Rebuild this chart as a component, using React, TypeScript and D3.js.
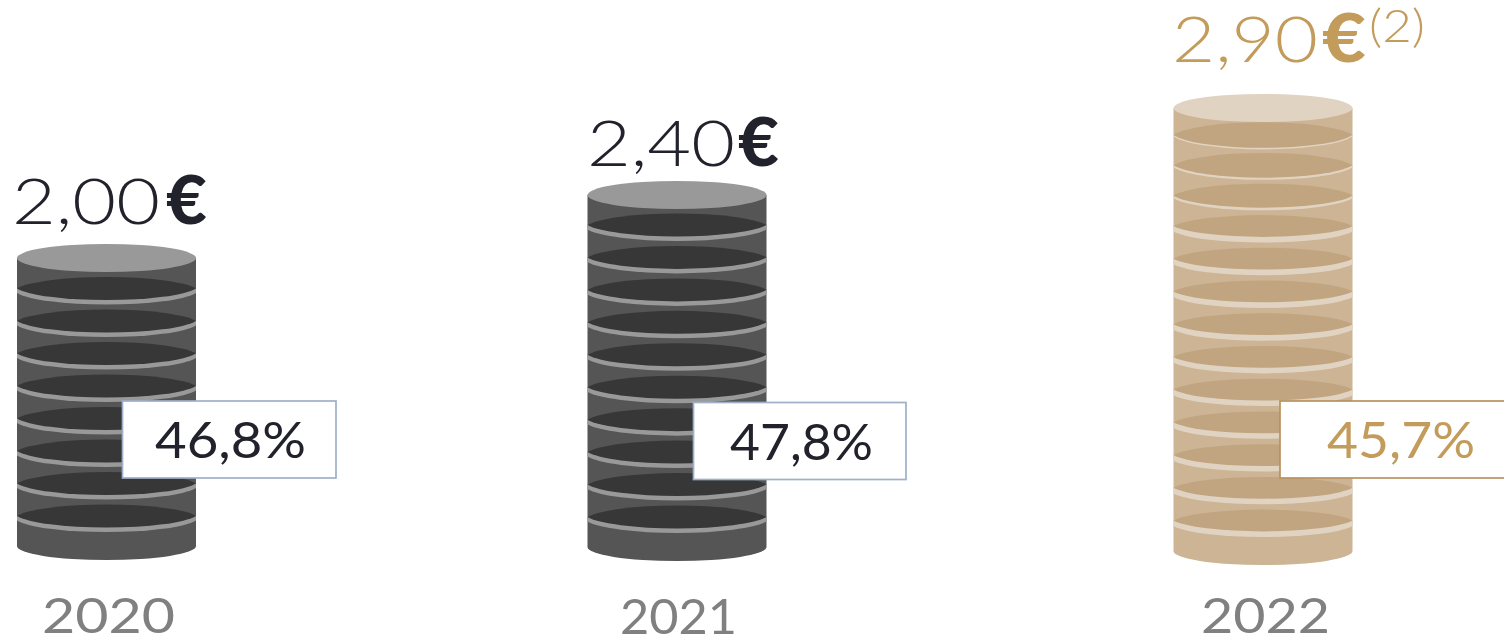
import React, { useEffect, useRef } from "react";
import { select, scaleLinear } from "d3";

const years = ["2020", "2021", "2022"];
const dividends = ["2,00", "2,40", "2,90"];
const payout = ["46,8%", "47,8%", "45,7%"];
const coinCounts = [9, 11, 14];

const width = 1504;
const height = 639;
const rx = 89.5;
const FONT = "Lato, 'Open Sans', sans-serif";

const grey = { body: "#555555", top: "#999999", dark: "#373737", rim: "#999999", text: "#22222c", box: "#9fb0c9" };
const gold = { body: "#ccb494", top: "#e0d3c1", dark: "#c1a580", rim: "#e0d3c1", text: "#c39b5a", box: "#b8925e" };

const columns = [
  {
    cx: 106.5, base: 546, top: 258, colors: grey,
    joints: { at: [1, 8], y: [288.5, 516] }, darkRy: { at: [1, 8], r: [11.6, 11.6] }, rim: { at: [1, 8], t: [4.5, 4.5] },
    valueX: 12, valueW: 148, valueY: 223.5, euroX: 166, euroW: 41,
    boxX: 122.5, boxY: 401, boxW: 213.5, labelX: 155, labelW: 151, yearX: 42, yearW: 133, yearY: 633,
  },
  {
    cx: 677, base: 547, top: 195, colors: grey,
    joints: { at: [1, 10], y: [225, 517] }, darkRy: { at: [1, 10], r: [11.5, 11.5] }, rim: { at: [1, 10], t: [4.5, 4.5] },
    valueX: 587, valueW: 148, valueY: 165.5, euroX: 738, euroW: 41,
    boxX: 693.5, boxY: 402.5, boxW: 212.5, labelX: 730, labelW: 143, yearX: 620, yearW: 117, yearY: 634,
  },
  {
    cx: 1263, base: 551, top: 108, colors: gold,
    joints: { at: [1, 4, 13], y: [135, 226, 520.5] }, darkRy: { at: [1, 3, 4, 13], r: [12.8, 12, 10.9, 10.9] }, rim: { at: [1, 3, 4, 13], t: [1.6, 2.6, 5.6, 5.6] },
    valueX: 1172, valueW: 146, valueY: 61.5, euroX: 1322, euroW: 44,
    boxX: 1280, boxY: 401, boxW: 240, labelX: 1327, labelW: 148, yearX: 1201, yearW: 129, yearY: 633,
  },
];

// the shadows come to a point at the sides of the stack, so they are arcs of a
// slightly wider ellipse than the stack itself
const arcWiden = 1.04;
const arcRy = (sag: number) => sag / (1 - Math.sqrt(1 - 1 / (arcWiden * arcWiden)));

export default function App() {
  const ref = useRef<SVGSVGElement>(null);

  useEffect(() => {
    document.body.style.margin = "0";
    const svg = select(ref.current);
    svg.selectAll("*").remove();

    columns.forEach((col, i) => {
      const n = coinCounts[i];
      const y = scaleLinear().domain(col.joints.at).range(col.joints.y);
      const ryAt = scaleLinear().domain(col.darkRy.at).range(col.darkRy.r);
      const rimAt = scaleLinear().domain(col.rim.at).range(col.rim.t);
      const g = svg.append("g");
      const c = col.colors;
      const left = col.cx - rx;
      const right = col.cx + rx;
      const Rx = rx * arcWiden;

      // body of the stack
      g.append("path")
        .attr("d", `M${left},${col.top} V${col.base} A${rx},14 0 0 0 ${right},${col.base} V${col.top} Z`)
        .attr("fill", c.body);

      // one rim + shadow per joint between two coins, counted from the top
      for (let k = 1; k < n; k++) {
        const cy = y(k);
        const Ry = arcRy(ryAt(k));
        const rimY = cy + rimAt(k);
        g.append("path")
          .attr("d", `M${left},${cy} L${left},${rimY} A${Rx},${Ry} 0 0 0 ${right},${rimY} L${right},${cy} Z`)
          .attr("fill", c.rim);
        g.append("path")
          .attr("d", `M${left},${cy} A${Rx},${Ry} 0 0 0 ${right},${cy} A${Rx},${Ry} 0 0 0 ${left},${cy} Z`)
          .attr("fill", c.dark);
      }

      g.append("ellipse")
        .attr("cx", col.cx)
        .attr("cy", col.top)
        .attr("rx", rx)
        .attr("ry", 14)
        .attr("fill", c.top);

      // dividend value
      g.append("text")
        .attr("x", col.valueX)
        .attr("y", col.valueY)
        .attr("font-family", FONT)
        .attr("font-weight", 300)
        .attr("font-size", 64)
        .attr("textLength", col.valueW)
        .attr("lengthAdjust", "spacingAndGlyphs")
        .attr("fill", c.text)
        .text(dividends[i]);
      g.append("text")
        .attr("x", col.euroX)
        .attr("y", col.valueY)
        .attr("font-family", FONT)
        .attr("font-weight", 900)
        .attr("font-size", 66)
        .attr("textLength", col.euroW)
        .attr("lengthAdjust", "spacingAndGlyphs")
        .attr("fill", c.text)
        .text("€");

      if (i === 2) {
        g.append("text")
          .attr("x", 1369)
          .attr("y", 42)
          .attr("font-family", FONT)
          .attr("font-weight", 300)
          .attr("font-size", 46)
          .attr("textLength", 56)
          .attr("lengthAdjust", "spacingAndGlyphs")
          .attr("fill", c.text)
          .text("(2)");
      }

      // payout box
      g.append("rect")
        .attr("x", col.boxX)
        .attr("y", col.boxY)
        .attr("width", col.boxW)
        .attr("height", 77)
        .attr("fill", "#fff")
        .attr("stroke", c.box)
        .attr("stroke-width", 1.7);
      g.append("text")
        .attr("x", col.labelX)
        .attr("y", col.boxY + 57)
        .attr("font-family", FONT)
        .attr("font-size", 50)
        .attr("textLength", col.labelW)
        .attr("lengthAdjust", "spacingAndGlyphs")
        .attr("fill", c.text)
        .text(payout[i]);

      // year
      g.append("text")
        .attr("x", col.yearX)
        .attr("y", col.yearY)
        .attr("font-family", FONT)
        .attr("font-size", 48)
        .attr("textLength", col.yearW)
        .attr("lengthAdjust", "spacingAndGlyphs")
        .attr("fill", "#808080")
        .text(years[i]);
    });
  }, []);

  return <svg ref={ref} width={width} height={height} style={{ position: "absolute", left: 0, top: 0, display: "block" }} />;
}
